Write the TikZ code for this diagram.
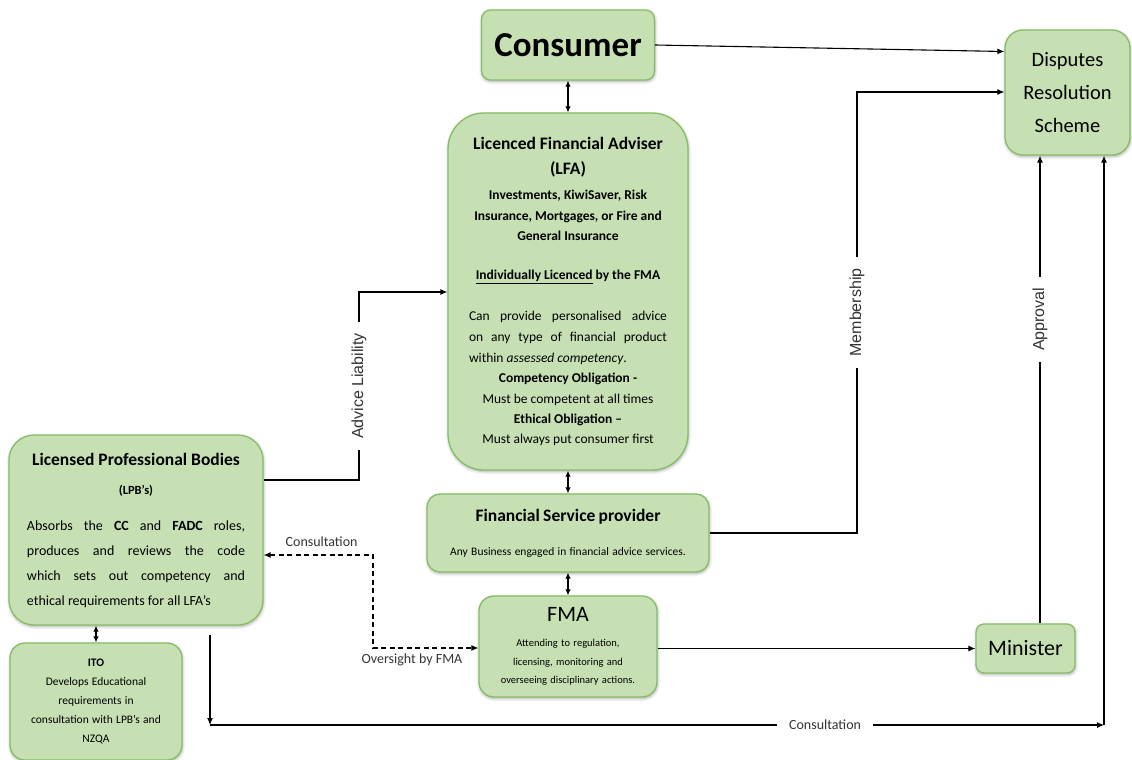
\documentclass[tikz,border=0pt]{standalone}
\usepackage{fontspec}
\setmainfont{Carlito}
\newfontfamily\arialfont{Liberation Sans}
\usepackage{xcolor}
\usepackage{tikz}
\usetikzlibrary{positioning}
\usetikzlibrary{shadows.blur}
\usetikzlibrary{arrows.meta}

\definecolor{boxfill}{HTML}{C6E0B4}
\definecolor{boxline}{HTML}{84BD63}
\definecolor{labelgray}{HTML}{333333}

\begin{document}
\begin{tikzpicture}[x=1pt,y=-1pt,
  greenbox/.style={draw=boxline, fill=boxfill, line width=1.3pt, inner sep=0pt,
    blur shadow={shadow xshift=0.5pt, shadow yshift=-1.5pt, shadow blur radius=3pt, shadow opacity=35}},
  arr/.style={line width=1.1pt, -{Latex[length=7pt,width=6pt]}},
  both/.style={line width=1.1pt, {Latex[length=6pt,width=5.5pt]}-{Latex[length=6pt,width=5.5pt]}},
  dasharr/.style={line width=1.1pt, dash pattern=on 5pt off 3.5pt, {Latex[length=7pt,width=6pt]}-{Latex[length=7pt,width=6pt]}},
  sidelbl/.style={fill=white, text=labelgray, inner xsep=11pt, inner ysep=1pt, rotate=90, font=\arialfont\fontsize{16}{19}\selectfont},
  flatlbl/.style={text=labelgray, inner sep=2pt, font=\fontsize{14}{16}\selectfont},
]

\useasboundingbox (0,0) rectangle (1132,760);

% Boxes
\node[greenbox, rounded corners=9pt, minimum width=173pt, minimum height=70pt] (consumer) at (568,45)
  {\fontsize{35}{40}\selectfont\bfseries Consumer};

\node[greenbox, rounded corners=36pt, minimum width=240pt, minimum height=357pt, text width=198pt, align=justify] (lfa) at (568,291.5) {%
  {\centering\bfseries\fontsize{17.5}{25}\selectfont Licenced Financial Adviser\\(LFA)\par}
  \vspace{4.5pt}
  {\centering\bfseries\fontsize{13.5}{20.5}\selectfont Investments, KiwiSaver, Risk\\Insurance, Mortgages, or Fire and\\General Insurance\par}
  \vspace{18.5pt}
  {\centering\bfseries\fontsize{13.5}{20.5}\selectfont \underline{Individually Licenced} by the FMA\par}
  \vspace{20.5pt}
  {\fontsize{13.5}{20.8}\selectfont Can provide personalised advice\linebreak on any type of financial product\linebreak within \textit{assessed competency}.\par}
  {\centering\fontsize{13.5}{20.3}\selectfont \textbf{Competency Obligation -}\\Must be competent at all times\\\textbf{Ethical Obligation –}\\Must always put consumer first\par}};

\node[greenbox, rounded corners=13pt, minimum width=282pt, minimum height=78pt, text width=270pt, align=center] (fsp) at (568,533) {%
  {\bfseries\fontsize{17.5}{21}\selectfont Financial Service provider\par}
  {\fontsize{11.5}{34}\selectfont Any Business engaged in financial advice services.\par}};

\node[greenbox, rounded corners=15pt, minimum width=178pt, minimum height=101pt, text width=160pt, align=center] (fma) at (568,646.5) {%
  {\fontsize{22}{26}\selectfont FMA\par}
  \vspace{6.5pt}
  {\fontsize{10.5}{18.5}\selectfont Attending to regulation,\\licensing, monitoring and\\overseeing disciplinary actions.\par}};

\node[greenbox, rounded corners=25pt, minimum width=254pt, minimum height=190pt, text width=218pt, align=justify] (lpb) at (136,530) {%
  {\centering\bfseries\fontsize{17.5}{21}\selectfont Licensed Professional Bodies\par}
  {\centering\bfseries\fontsize{12.5}{29}\selectfont (LPB’s)\par}
  \vspace{11pt}
  {\fontsize{14}{25}\selectfont Absorbs the \textbf{CC} and \textbf{FADC} roles,\linebreak produces and reviews the code\linebreak which sets out competency and\linebreak ethical requirements for all LFA’s\par}};

\node[greenbox, rounded corners=15pt, minimum width=172pt, minimum height=117pt, text width=165pt, align=center] (ito) at (96,701.5) {%
  {\fontsize{11.5}{19}\selectfont \textbf{ITO}\\Develops Educational\\requirements in\\consultation with LPB’s and\\NZQA\par}};

\node[greenbox, rounded corners=18pt, minimum width=125pt, minimum height=125pt, text width=120pt, align=center] (drs) at (1067.5,92.5) {%
  {\fontsize{20.5}{33}\selectfont Disputes\\Resolution\\Scheme\par}};

\node[greenbox, rounded corners=8pt, minimum width=99pt, minimum height=49pt] (minister) at (1025.5,648.5)
  {\fontsize{22}{26}\selectfont Minister};

% Bends of the connectors
\coordinate (mbend) at (857,92);
\coordinate (abend) at (359,292);
\coordinate (apx) at (1040,0);
\coordinate (dtop) at (373,555);
\coordinate (dbot) at (373,648);
\coordinate (cbl) at (210,725);
\coordinate (cbr) at (1104,725);

% Vertical links
\draw[both] (consumer.south) -- (lfa.north);
\draw[both] (lfa.south) -- (fsp.north);
\draw[both] (fsp.south) -- (fma.north);
\draw[both] (lpb.south -| ito.north) -- (ito.north);

% Links to the disputes scheme
\draw[arr] (consumer.east) -- ([yshift=41pt]drs.west);
\draw[arr] (fsp.east) -| node[pos=0.75, sidelbl]{Membership} (mbend) -- (mbend -| drs.west);
\draw[arr] (minister.north -| apx) -- node[pos=0.65, sidelbl]{Approval} (drs.south -| apx);
\draw[arr] (fma.east |- minister.west) -- (minister.west);

% Links from the professional bodies
\draw[arr] ([yshift=50pt]lpb.east) -| node[pos=0.75, sidelbl]{Advice Liability} (abend) -- (abend -| lfa.west);
\draw[dasharr] (lpb.east |- dtop) -- node[pos=0.53, above=6pt, flatlbl]{Consultation} (dtop) -- (dbot)
  -- node[pos=0.37, below=3pt, flatlbl]{Oversight by FMA} (dbot -| fma.west);

% Consultation along the bottom
\draw[arr] ([yshift=-9pt]lpb.south -| cbl) -- (cbl);
\draw[arr] (cbl) -- node[pos=0.688, fill=white, inner xsep=12pt, inner ysep=1pt, text=labelgray, font=\fontsize{14}{16}\selectfont]{Consultation} (cbr);
\draw[arr] (cbr) -- (drs.south -| cbr);

\end{tikzpicture}
\end{document}
